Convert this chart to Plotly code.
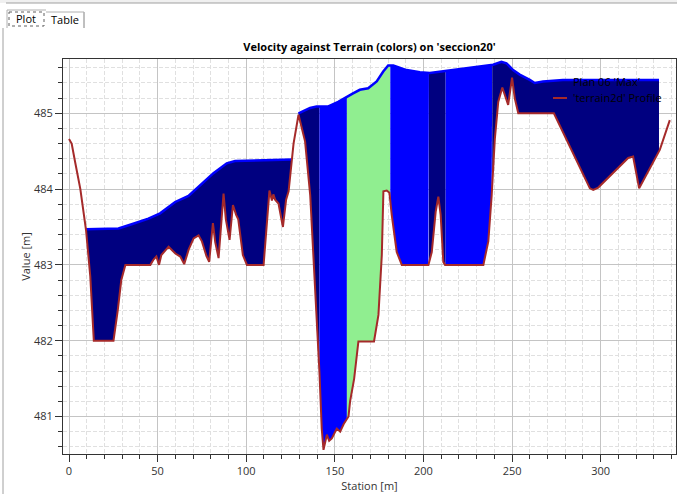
import numpy as np
import plotly.graph_objects as go

# ---------------- data ----------------
station = [0, 1.5, 3.5, 6.4, 9.6, 12, 14, 25.1, 27.5, 29.5, 31.8, 45.9, 47.7, 49.3, 50, 50.8,
           52.1, 56.2, 60, 62.8, 65, 67.5, 70.3, 73.1, 75, 77.5, 79.1, 81.2, 82.5, 84.4,
           87.2, 88.5, 90.6, 92.5, 94.3, 95.5, 98.1, 100.4, 109.8, 113.1, 114.5, 115.3,
           116.3, 118.2, 120.7, 122.5, 123.9, 125.7, 126.7, 129.5, 133.2, 136.1, 137.9,
           139.8, 141.3, 142.6, 143.6, 145.5, 146.8, 148.3, 151.1, 153, 155, 157.7, 158.6,
           160.9, 163.3, 172.1, 174.6, 176.5, 177.4, 179.3, 180.8, 182.1, 184.9, 187.8,
           202.8, 204.7, 206.9, 208.4, 209.7, 211.2, 212.2, 233.8, 236.6, 238.5, 240.3,
           242.2, 244.5, 247.8, 250, 251.5, 253.5, 273.6, 293.9, 295.8, 298.6, 315.5,
           318.3, 321.7, 333.4, 339]
terrain = [484.66, 484.6, 484.35, 484.0, 483.46, 482.85, 482.0, 482.0, 482.4, 482.8, 483.0,
           483.0, 483.07, 483.11, 483.06, 483.0, 483.13, 483.24, 483.15, 483.11, 483.01,
           483.2, 483.35, 483.39, 483.31, 483.12, 483.04, 483.55, 483.3, 483.09, 483.94,
           483.6, 483.33, 483.79, 483.66, 483.6, 483.13, 483.0, 483.0, 483.98, 483.85,
           483.93, 483.86, 483.81, 483.5, 483.86, 483.97, 484.38, 484.6, 484.98, 484.63,
           483.92, 483.13, 482.16, 481.59, 480.84, 480.56, 480.76, 480.68, 480.71, 480.84,
           480.8, 480.9, 481.0, 481.2, 481.5, 481.99, 481.99, 482.34, 483.13, 483.97,
           483.98, 483.95, 483.66, 483.17, 483.0, 483.0, 483.17, 483.7, 483.9, 483.66,
           483.04, 483.0, 483.0, 483.31, 483.92, 484.67, 485.15, 485.34, 485.11, 485.47,
           485.2, 485.0, 485.0, 484.01, 483.99, 484.02, 484.41, 484.43, 484.01, 484.52,
           484.91]

ws1_station = [9.6, 27.9, 34.5, 44.8, 51.4, 59.9, 67.4, 74, 81.5, 89, 93.7, 110, 125.7]
ws1_elev = [483.47, 483.48, 483.53, 483.61, 483.68, 483.83, 483.91, 484.05, 484.21, 484.34,
            484.37, 484.38, 484.39]

ws2_station = [129.5, 136, 139.7, 146.3, 151.9, 156.6, 160, 164.1, 168.8, 173.6, 177.3,
               180.1, 183, 190.5, 198, 203.6, 213, 224.3, 232, 239.3, 244, 246.8, 250.6,
               254.3, 260, 262.8, 267.5, 278.7, 288.2, 332.9]
ws2_elev = [485.0, 485.07, 485.09, 485.09, 485.15, 485.22, 485.26, 485.31, 485.33, 485.42,
            485.55, 485.63, 485.63, 485.57, 485.54, 485.53, 485.56, 485.6, 485.62, 485.64,
            485.68, 485.66, 485.57, 485.51, 485.44, 485.40, 485.42, 485.44, 485.44, 485.44]

band_start = [9.6, 129.5, 141.3, 156.8, 181.3, 203.1, 212.5, 238.8]
band_end = [125.7, 141.3, 156.8, 181.3, 203.1, 212.5, 238.8, 332.9]
band_section = [1, 2, 2, 2, 2, 2, 2, 2]
band_color = ["#000080", "#000080", "#0000FF", "#90EE90", "#0000FF", "#000080", "#0000FF", "#000080"]

x_ticks = [0, 50, 100, 150, 200, 250, 300]
y_ticks = [481, 482, 483, 484, 485]

title_text = "Velocity against Terrain (colors) on 'seccion20'"
legend_names = ["Plan 06 'Max'", "'terrain2d' Profile"]

# ---------------- geometry helpers ----------------
W, H = 677, 494
L, R, T, B = 63, 676, 59, 454


def pxx(x):
    return (x - L) / (R - L)


def pxy(y):
    return (B - y) / (B - T)


st = np.array(station)
tr = np.array(terrain)


def band_poly(x0, x1, sx, sy):
    sx = np.array(sx)
    sy = np.array(sy)
    m = (sx > x0) & (sx < x1)
    top_x = [x0] + list(sx[m]) + [x1]
    top_y = [np.interp(x0, sx, sy)] + list(sy[m]) + [np.interp(x1, sx, sy)]
    mt = (st > x0) & (st < x1)
    bot_x = [x1] + list(st[mt][::-1]) + [x0]
    bot_y = [np.interp(x1, st, tr)] + list(tr[mt][::-1]) + [np.interp(x0, st, tr)]
    return top_x + bot_x, top_y + bot_y


fig = go.Figure()

sections = {1: (ws1_station, ws1_elev), 2: (ws2_station, ws2_elev)}
for x0, x1, sec, col in zip(band_start, band_end, band_section, band_color):
    sx, sy = sections[sec]
    px_, py_ = band_poly(x0, x1, sx, sy)
    fig.add_trace(go.Scatter(x=px_, y=py_, mode="lines", fill="toself", fillcolor=col,
                             line=dict(width=0, color=col), showlegend=False,
                             hoverinfo="skip"))

# water surface line
fig.add_trace(go.Scatter(x=ws1_station + [None] + ws2_station,
                         y=ws1_elev + [None] + ws2_elev,
                         mode="lines", line=dict(color="#0000FF", width=2.5),
                         showlegend=False, name=legend_names[0]))

# terrain line
fig.add_trace(go.Scatter(x=station, y=terrain, mode="lines",
                         line=dict(color="#A52A2A", width=2), showlegend=False,
                         name=legend_names[1]))

grid_major = "#C4C4C4"
grid_minor = "#E0E0E0"
font_family = "Open Sans, DejaVu Sans, sans-serif"

fig.update_xaxes(range=[-3.39, 342.5], tickmode="array", tickvals=x_ticks,
                 ticktext=[str(v) for v in x_ticks],
                 showline=True, linecolor="#333333", linewidth=1, mirror=True,
                 ticks="outside", ticklen=7, tickcolor="#333333",
                 showgrid=True, gridcolor=grid_major, gridwidth=1,
                 zeroline=False,
                 minor=dict(dtick=10, tick0=0, ticks="outside", ticklen=4, tickcolor="#333333",
                            showgrid=True, gridcolor=grid_minor, griddash="4px,2px"),
                 title=dict(text="Station [m]", standoff=2, font=dict(size=11, color="#333333")),
                 tickfont=dict(size=11, color="#333333"))
fig.update_yaxes(range=[480.505, 485.716], tickmode="array", tickvals=y_ticks,
                 ticktext=[str(v) for v in y_ticks],
                 showline=True, linecolor="#333333", linewidth=1, mirror=True,
                 ticks="outside", ticklen=7, tickcolor="#333333",
                 showgrid=True, gridcolor=grid_major, gridwidth=1,
                 zeroline=False,
                 minor=dict(dtick=0.2, tick0=481, ticks="outside", ticklen=4, tickcolor="#333333",
                            showgrid=True, gridcolor=grid_minor, griddash="4px,2px"),
                 title=dict(text="Value [m]", standoff=1, font=dict(size=11, color="#333333")),
                 tickfont=dict(size=11, color="#333333"))

shapes = []
annotations = []

# window chrome: top strip and tabs
shapes.append(dict(type="rect", xref="paper", yref="paper", x0=pxx(0), x1=pxx(W), y0=pxy(0), y1=pxy(3),
                   fillcolor="#F0F0F0", line=dict(width=0), layer="below"))
shapes.append(dict(type="line", xref="paper", yref="paper", x0=pxx(6), x1=pxx(W), y0=pxy(3), y1=pxy(3),
                   line=dict(color="#A0A0A0", width=1)))
shapes.append(dict(type="line", xref="paper", yref="paper", x0=pxx(3), x1=pxx(3), y0=pxy(28), y1=pxy(H),
                   line=dict(color="#A0A0A0", width=1)))
shapes.append(dict(type="line", xref="paper", yref="paper", x0=pxx(7), x1=pxx(7), y0=pxy(10), y1=pxy(28),
                   line=dict(color="#B0B0B0", width=1)))
shapes.append(dict(type="line", xref="paper", yref="paper", x0=pxx(7), x1=pxx(46), y0=pxy(10), y1=pxy(10),
                   line=dict(color="#B0B0B0", width=1)))
shapes.append(dict(type="rect", xref="paper", yref="paper", x0=pxx(9), x1=pxx(44), y0=pxy(12), y1=pxy(26),
                   line=dict(color="#606060", width=1, dash="dot"), fillcolor="rgba(0,0,0,0)"))
shapes.append(dict(type="line", xref="paper", yref="paper", x0=pxx(84), x1=pxx(84), y0=pxy(12), y1=pxy(28),
                   line=dict(color="#808080", width=1)))
shapes.append(dict(type="line", xref="paper", yref="paper", x0=pxx(46), x1=pxx(84), y0=pxy(12), y1=pxy(12),
                   line=dict(color="#B0B0B0", width=1)))
annotations.append(dict(text="Plot", xref="paper", yref="paper", x=pxx(26), y=pxy(19),
                        xanchor="center", yanchor="middle", showarrow=False,
                        font=dict(size=11, color="#000000", family=font_family)))
annotations.append(dict(text="Table", xref="paper", yref="paper", x=pxx(65), y=pxy(20),
                        xanchor="center", yanchor="middle", showarrow=False,
                        font=dict(size=11, color="#000000", family=font_family)))

# legend (drawn manually to match the original layout)
annotations.append(dict(text=legend_names[0], xref="paper", yref="paper", x=pxx(571), y=pxy(82),
                        xanchor="left", yanchor="middle", showarrow=False,
                        font=dict(size=11, color="#000000", family=font_family)))
annotations.append(dict(text=legend_names[1], xref="paper", yref="paper", x=pxx(571), y=pxy(98),
                        xanchor="left", yanchor="middle", showarrow=False,
                        font=dict(size=11, color="#000000", family=font_family)))
shapes.append(dict(type="line", xref="paper", yref="paper", x0=pxx(553), x1=pxx(567), y0=pxy(98), y1=pxy(98),
                   line=dict(color="#A52A2A", width=2)))

fig.update_layout(
    width=W, height=H,
    margin=dict(l=L, r=W - R, t=T, b=H - B),
    paper_bgcolor="#FFFFFF", plot_bgcolor="#FFFFFF",
    font=dict(family=font_family, size=11, color="#333333"),
    title=dict(text="<b>" + title_text + "</b>", x=0.5, xref="paper", xanchor="center",
               y=1 - 47 / H, yanchor="middle", font=dict(size=11, color="#000000")),
    shapes=shapes, annotations=annotations, showlegend=False,
)

fig.write_html("out.html", config={"displayModeBar": False},
               post_script="document.body.style.margin='0';document.body.style.overflow='hidden';")
